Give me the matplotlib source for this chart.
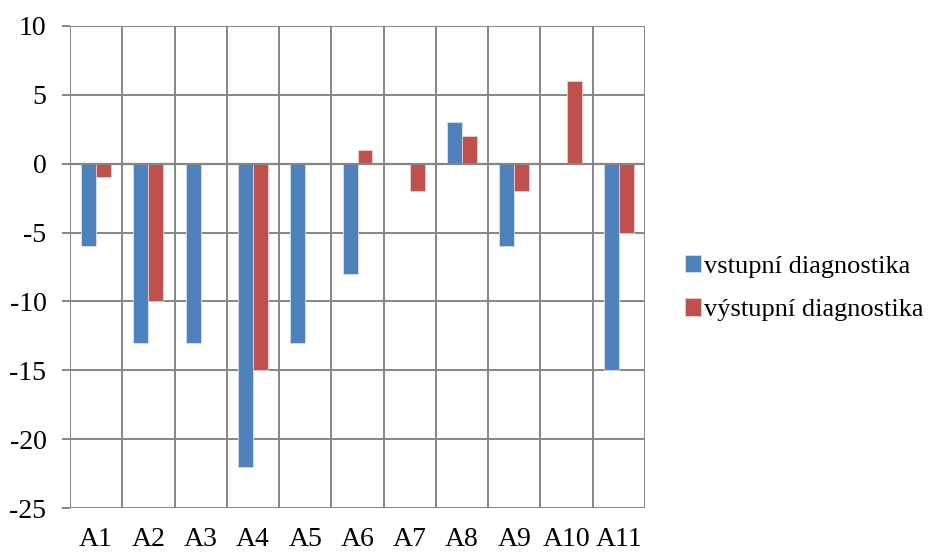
import numpy as np
import matplotlib.pyplot as plt

plt.rcParams['font.family'] = ['Liberation Serif', 'DejaVu Serif']
plt.rcParams['axes.unicode_minus'] = False

categories = ['A1', 'A2', 'A3', 'A4', 'A5', 'A6', 'A7', 'A8', 'A9', 'A10', 'A11']
vstupni = [-6, -13, -13, -22, -13, -8, 0, 3, -6, 0, -15]
vystupni = [-1, -10, 0, -15, 0, 1, -2, 2, -2, 6, -5]
series_names = ['vstupní diagnostika', 'výstupní diagnostika']

grid_col = '#868686'
blue = '#4F81BD'
red = '#C0504D'

fig = plt.figure(figsize=(9.31, 5.52), dpi=100)
ax = fig.add_axes([0.0752, 0.0797, 0.6176, 0.8732])

x = np.arange(len(categories))
w = 1 / 3.5
ax.bar(x - w / 2, vstupni, w, color=blue, edgecolor='#d6e0ee', linewidth=0.6,
       label=series_names[0], zorder=3)
ax.bar(x + w / 2, vystupni, w, color=red, edgecolor='#ecd1d0', linewidth=0.6,
       label=series_names[1], zorder=3)

ax.set_xlim(-0.5, len(categories) - 0.5)
ax.set_ylim(-25, 10)
ax.set_yticks(np.arange(-25, 11, 5))

# category separators as vertical grid lines
for b in np.arange(-0.5, len(categories), 1.0):
    ax.axvline(b, color=grid_col, lw=1.4, zorder=1)
for yv in np.arange(-25, 11, 5):
    ax.axhline(yv, color=grid_col, lw=1.4, zorder=1)
ax.axhline(0, color=grid_col, lw=1.6, zorder=4)

ax.set_xticks(x)
ax.set_xticklabels(categories)
for s in ax.spines.values():
    s.set_visible(False)
ax.tick_params(axis='x', length=0, pad=14, labelsize=20)
ax.tick_params(axis='y', length=6, width=1.4, color=grid_col, pad=11, labelsize=20)

leg = fig.legend(loc='center left', bbox_to_anchor=(0.7215, 0.478), frameon=False,
                 fontsize=19, handlelength=0.62, handleheight=0.62,
                 handletextpad=0.1, labelspacing=0.78, borderpad=0)

fig.savefig('out.png', dpi=100)
